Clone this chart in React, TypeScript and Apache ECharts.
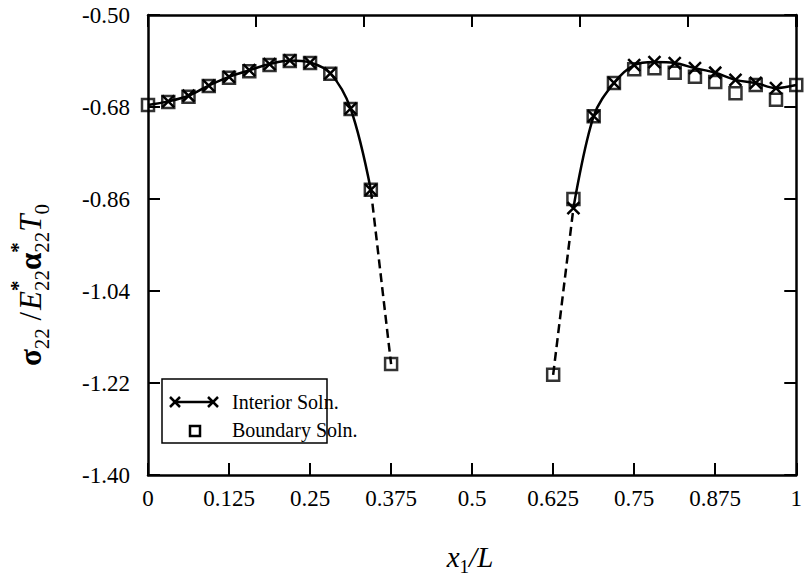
import React, { useEffect, useRef } from "react";
import * as echarts from "echarts";

const FONT = '"Liberation Serif", "Times New Roman", serif';

// ---- data ----
const xLeft = [0, 0.03125, 0.0625, 0.09375, 0.125, 0.15625, 0.1875, 0.21875, 0.25, 0.28125, 0.3125, 0.34375, 0.375];
const boundaryLeft = [-0.676, -0.67, -0.66, -0.639, -0.623, -0.61, -0.598, -0.59, -0.594, -0.615, -0.684, -0.842, -1.183];
const xInteriorLeft = [0, 0.03125, 0.0625, 0.09375, 0.125, 0.15625, 0.1875, 0.21875, 0.25, 0.28125, 0.3125, 0.34375];
const interiorLeft = [-0.676, -0.669, -0.658, -0.638, -0.621, -0.608, -0.596, -0.589, -0.593, -0.614, -0.683, -0.842];

const xRight = [0.625, 0.65625, 0.6875, 0.71875, 0.75, 0.78125, 0.8125, 0.84375, 0.875, 0.90625, 0.9375, 0.96875, 1];
const boundaryRight = [-1.204, -0.86, -0.698, -0.633, -0.606, -0.604, -0.613, -0.621, -0.631, -0.653, -0.637, -0.666, -0.637];
const xInteriorRight = [0.65625, 0.6875, 0.71875, 0.75, 0.78125, 0.8125, 0.84375, 0.875, 0.90625, 0.9375, 0.96875, 1];
const interiorRight = [-0.878, -0.698, -0.633, -0.598, -0.592, -0.594, -0.604, -0.613, -0.627, -0.633, -0.643, -0.637];

const dashedLeftX = [0.34375, 0.375];
const dashedLeftY = [-0.842, -1.183];
const dashedRightX = [0.625, 0.65625];
const dashedRightY = [-1.204, -0.878];

const legendLabels = ["Interior Soln.", "Boundary Soln."];

const X_SYMBOL = "path://M0,0L10,10M10,0L0,10";

function measure(text: string, font: string): number {
  const ctx = document.createElement("canvas").getContext("2d");
  if (!ctx) return text.length * 10;
  ctx.font = font;
  return ctx.measureText(text).width;
}

type Piece = { text?: string; font?: string; dy?: number; sup?: string; sub?: string; gap?: number };

function buildLabel(pieces: Piece[], subFont: string, supFont: string, subDy: number, supDy: number) {
  const items: any[] = [];
  let cx = 0;
  for (const p of pieces) {
    if (p.gap) cx += p.gap;
    if (p.sub !== undefined && p.sup !== undefined) {
      const w = Math.max(measure(p.sub, subFont), measure(p.sup, supFont));
      items.push({ type: "text", x: cx, y: supDy, style: { text: p.sup, font: supFont, fill: "#000", align: "left", verticalAlign: "middle" } });
      items.push({ type: "text", x: cx, y: subDy, style: { text: p.sub, font: subFont, fill: "#000", align: "left", verticalAlign: "middle" } });
      cx += w;
    } else if (p.text !== undefined) {
      const f = p.font as string;
      items.push({ type: "text", x: cx, y: p.dy || 0, style: { text: p.text, font: f, fill: "#000", align: "left", verticalAlign: "middle" } });
      cx += measure(p.text, f);
    }
  }
  const half = cx / 2;
  items.forEach((it) => (it.x -= half));
  return items;
}

export default function App() {
  const ref = useRef<HTMLDivElement>(null);

  useEffect(() => {
    if (!ref.current) return;
    const chart = echarts.init(ref.current, null, { renderer: "svg" });

    const main = 31;
    const subF = `21px ${FONT}`;
    const supF = `bold 21px ${FONT}`;
    const yLabel = buildLabel(
      [
        { text: "σ", font: `bold ${main}px ${FONT}` },
        { text: "22", font: subF, dy: 12 },
        { text: " /", font: `${main}px ${FONT}` },
        { text: "E", font: `italic ${main}px ${FONT}`, gap: 2 },
        { sup: "*", sub: "22" },
        { text: "α", font: `bold ${main}px ${FONT}` },
        { sup: "*", sub: "22" },
        { text: "T", font: `italic ${main}px ${FONT}` },
        { text: "0", font: subF, dy: 12 },
      ],
      subF,
      supF,
      12,
      -12
    );
    const xLabel = buildLabel(
      [
        { text: "x", font: `italic 29px ${FONT}` },
        { text: "1", font: `19px ${FONT}`, dy: 9 },
        { text: "/L", font: `italic 29px ${FONT}` },
      ],
      `19px ${FONT}`,
      `19px ${FONT}`,
      9,
      -9
    );

    const lx = 162, ly = 379, lw = 165, lh = 64;
    const crossAt = (cx: number, cy: number, s: number) => [
      { type: "line", shape: { x1: cx - s, y1: cy - s, x2: cx + s, y2: cy + s }, style: { stroke: "#000", lineWidth: 2.5 } },
      { type: "line", shape: { x1: cx + s, y1: cy - s, x2: cx - s, y2: cy + s }, style: { stroke: "#000", lineWidth: 2.5 } },
    ];

    const axisCommon = {
      type: "value" as const,
      axisLine: { show: true, onZero: false, lineStyle: { color: "#000", width: 2.5 } },
      axisTick: { show: true, inside: true, length: 12, lineStyle: { color: "#000", width: 2 } },
      splitLine: { show: false },
    };

    chart.setOption({
      animation: false,
      backgroundColor: "#fff",
      grid: { left: 148, right: 7, top: 15, bottom: 110, containLabel: false },
      xAxis: [
        {
          ...axisCommon,
          position: "bottom",
          min: 0,
          max: 1,
          interval: 0.125,
          axisLabel: { color: "#000", fontFamily: FONT, fontSize: 23, margin: 12, formatter: (v: number) => String(v) },
        },
        {
          ...axisCommon,
          position: "top",
          min: 0,
          max: 1,
          interval: 1 / 6,
          axisLabel: { show: false },
        },
      ],
      yAxis: [
        {
          ...axisCommon,
          position: "left",
          min: -1.4,
          max: -0.5,
          interval: 0.18,
          axisLabel: { color: "#000", fontFamily: FONT, fontSize: 23, margin: 18, formatter: (v: number) => v.toFixed(2) },
        },
        {
          ...axisCommon,
          position: "right",
          min: -1.4,
          max: -0.5,
          interval: 0.18,
          axisLabel: { show: false },
        },
      ],
      series: [
        {
          type: "line",
          name: "Interior Soln. (left)",
          data: xInteriorLeft.map((x, i) => (i === 0 ? { value: [x, interiorLeft[i]], symbol: "none" } : [x, interiorLeft[i]])),
          smooth: 0.35,
          symbol: X_SYMBOL,
          symbolSize: 12,
          showAllSymbol: true,
          lineStyle: { color: "#000", width: 2.5 },
          itemStyle: { color: "#000", borderColor: "#000", borderWidth: 2.5 },
          z: 3,
        },
        {
          type: "line",
          name: "Interior Soln. (right)",
          data: xInteriorRight.map((x, i) =>
            i === xInteriorRight.length - 1 ? { value: [x, interiorRight[i]], symbol: "none" } : [x, interiorRight[i]]
          ),
          smooth: 0.35,
          symbol: X_SYMBOL,
          symbolSize: 12,
          showAllSymbol: true,
          lineStyle: { color: "#000", width: 2.5 },
          itemStyle: { color: "#000", borderColor: "#000", borderWidth: 2.5 },
          z: 3,
        },
        {
          type: "line",
          name: "dashed left",
          data: dashedLeftX.map((x, i) => [x, dashedLeftY[i]]),
          symbol: "none",
          lineStyle: { color: "#000", width: 2.5, type: [9, 5] },
          z: 2,
        },
        {
          type: "line",
          name: "dashed right",
          data: dashedRightX.map((x, i) => [x, dashedRightY[i]]),
          symbol: "none",
          lineStyle: { color: "#000", width: 2.5, type: [9, 5] },
          z: 2,
        },
        {
          type: "scatter",
          name: "Boundary Soln. (left)",
          data: xLeft.map((x, i) => [x, boundaryLeft[i]]),
          symbol: "rect",
          symbolSize: 12,
          itemStyle: { color: "rgba(0,0,0,0)", borderColor: "#000", borderWidth: 2.5 },
          z: 4,
        },
        {
          type: "scatter",
          name: "Boundary Soln. (right)",
          data: xRight.map((x, i) => [x, boundaryRight[i]]),
          symbol: "rect",
          symbolSize: 12,
          itemStyle: { color: "rgba(0,0,0,0)", borderColor: "#000", borderWidth: 2.5 },
          z: 4,
        },
      ],
      graphic: [
        {
          type: "group",
          x: 30,
          y: 285,
          rotation: Math.PI / 2,
          children: yLabel,
        },
        {
          type: "group",
          x: 470,
          y: 557,
          children: xLabel,
        },
        {
          type: "group",
          z: 100,
          children: [
            { type: "rect", shape: { x: lx, y: ly, width: lw, height: lh }, style: { fill: "#fff", stroke: "#000", lineWidth: 1.5 } },
            { type: "line", shape: { x1: 175, y1: 402, x2: 213, y2: 402 }, style: { stroke: "#000", lineWidth: 2.5 } },
            ...crossAt(175, 402, 5),
            ...crossAt(213, 402, 5),
            { type: "rect", shape: { x: 190, y: 426, width: 10, height: 10 }, style: { fill: "none", stroke: "#000", lineWidth: 2.5 } },
            { type: "text", x: 232, y: 402, style: { text: legendLabels[0], font: `20px ${FONT}`, fill: "#000", verticalAlign: "middle" } },
            { type: "text", x: 232, y: 430, style: { text: legendLabels[1], font: `20px ${FONT}`, fill: "#000", verticalAlign: "middle" } },
          ],
        },
      ],
    });

    return () => chart.dispose();
  }, []);

  return <div ref={ref} style={{ position: "fixed", left: 0, top: 0, width: 805, height: 585 }} />;
}
